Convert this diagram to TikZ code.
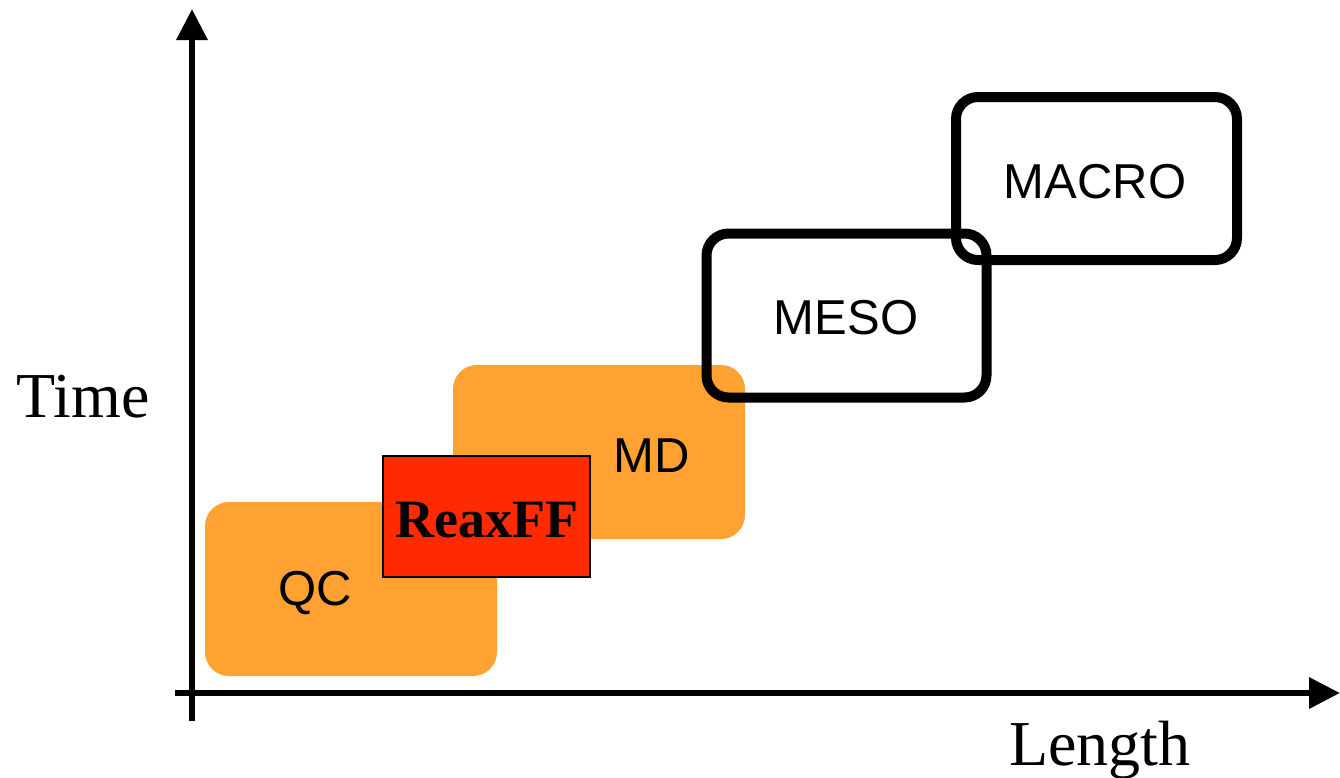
\documentclass[tikz,border=0pt]{standalone}
\usepackage{fontspec}
\setmainfont{Liberation Serif}
\newfontfamily\arialf{Liberation Sans}
\usetikzlibrary{arrows.meta}
\definecolor{orng}{HTML}{FFA231}
\definecolor{rxred}{HTML}{FF2A00}
\tikzset{
  obox/.style={rectangle, fill=orng, rounded corners=24pt, inner sep=0pt},
  wbox/.style={rectangle, draw=black, line width=10pt, rounded corners=22pt, inner sep=0pt},
  rbox/.style={rectangle, fill=rxred, draw=black, line width=1.5pt, inner sep=0pt},
  slabel/.style={font=\arialf\fontsize{49}{55}\selectfont, inner sep=0pt},
  tlabel/.style={font=\fontsize{64}{70}\selectfont, inner sep=0pt},
  axis/.style={line width=6.5pt, -{Triangle[width=30pt,length=31pt]}},
}
\begin{document}
\begin{tikzpicture}[x=1pt,y=-1pt]
\useasboundingbox (0,0) rectangle (1340,777);
\node[obox, minimum width=292pt, minimum height=174pt] (qc) at (351,589) {};
\node[obox, minimum width=292pt, minimum height=174pt] (md) at (599,452) {};
\node[rbox, minimum width=207pt, minimum height=121pt] (rx) at (486.5,516.5) {};
\node[wbox, minimum width=280pt, minimum height=164pt] (meso) at (846.5,315.5) {};
\node[wbox, minimum width=281pt, minimum height=163pt] (macro) at (1096.5,178.5) {};
\node[slabel] (qcl) at (315,593) {QC};
\node[slabel] (mdl) at (652,456) {MD};
\node[slabel] (mesol) at (846,318) {MESO};
\node[slabel] (macrol) at (1095,182) {MACRO};
\node[font=\bfseries\fontsize{54}{60}\selectfont, inner sep=0pt] (rxl) at (487,520) {ReaxFF};
\node[tlabel] (time) at (83,397) {Time};
\node[tlabel, anchor=base] (len) at (1100,765) {Length};
\coordinate (ybot) at (192,721);
\coordinate (ytop) at (192,9);
\coordinate (xl) at (175,693);
\coordinate (xr) at (1340,693);
\draw[axis] (ybot) -- (ytop);
\draw[axis] (xl) -- (xr);
\end{tikzpicture}
\end{document}
